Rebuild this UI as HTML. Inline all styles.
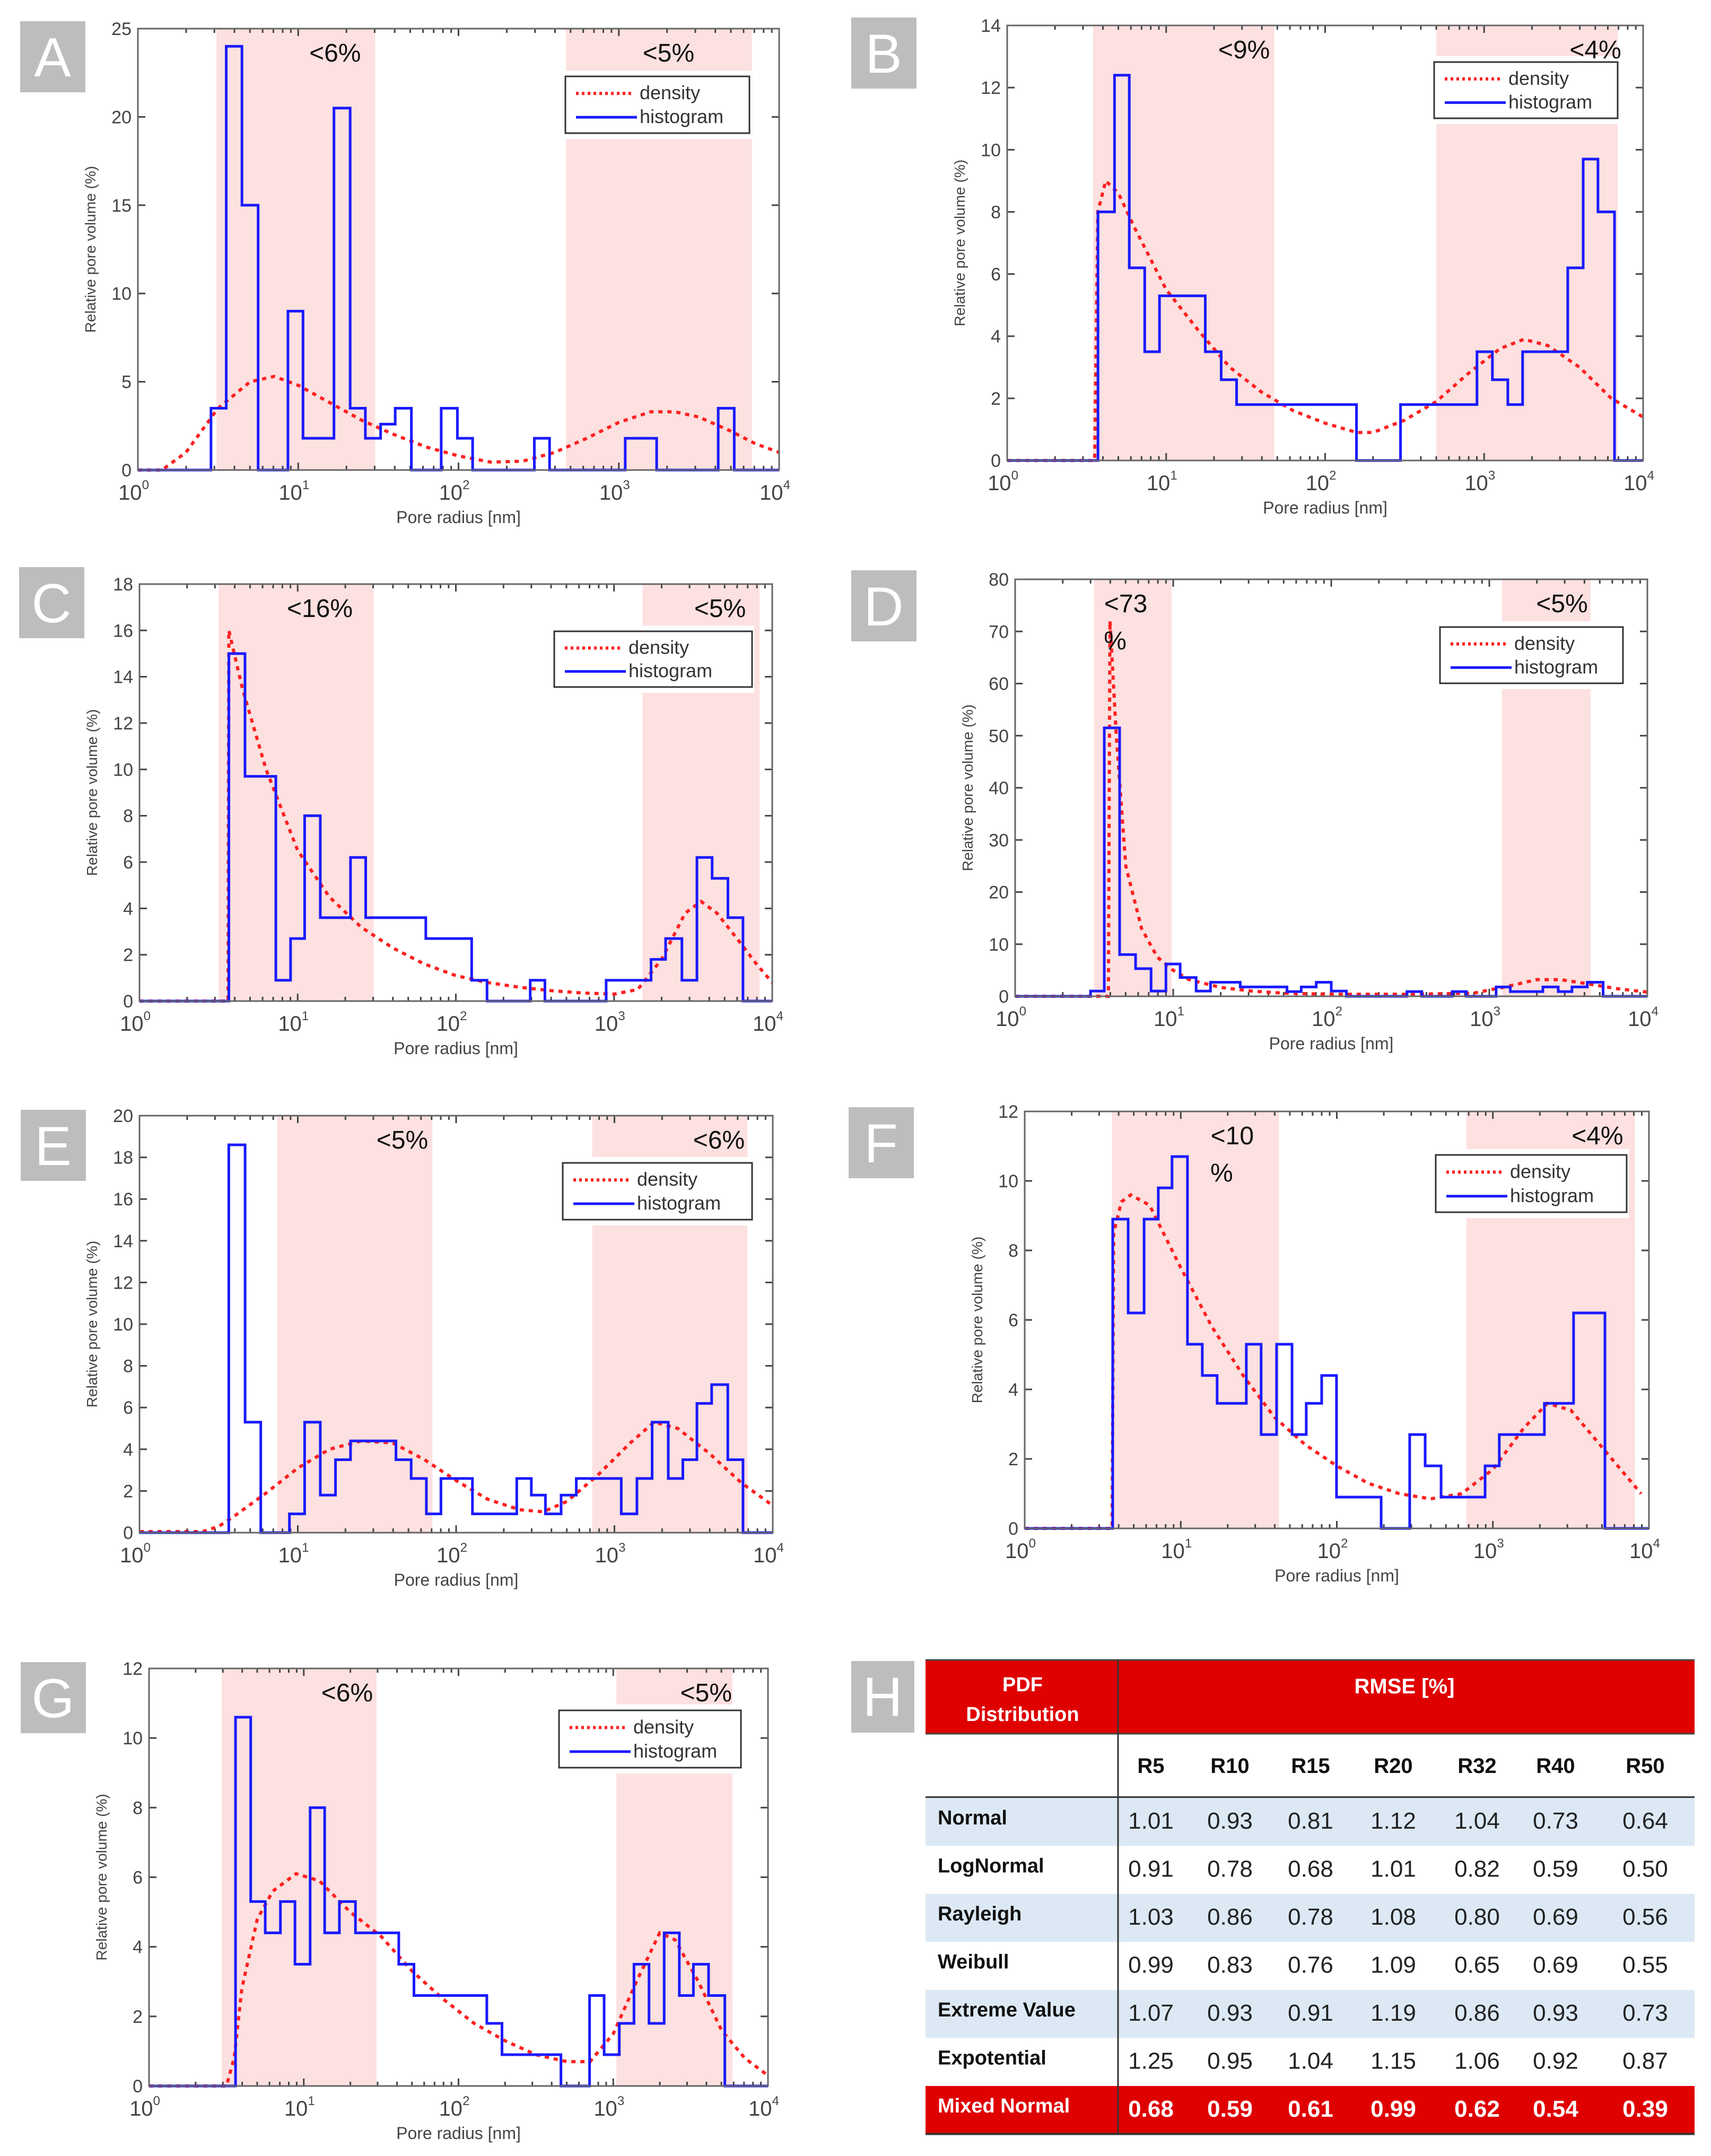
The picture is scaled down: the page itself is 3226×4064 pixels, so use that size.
<!DOCTYPE html>
<html><head><meta charset="utf-8"><style>
html,body{margin:0;padding:0;background:#fff;}
svg{display:block;font-family:"Liberation Sans",sans-serif;}
</style></head><body>
<svg id="fig" xmlns="http://www.w3.org/2000/svg" width="3226" height="4064" viewBox="0 0 3226 4064">
<rect x="0" y="0" width="3226" height="4064" fill="#fff"/>
</svg>
<script>
// ---------- DATA (x in log10(nm), y in %) ----------
const panelIds = ["A","B","C","D","E","F","G"];
const yMaxes = [25,14,18,80,20,12,12];
const yStepsArr = [5,2,2,10,2,2,2];
const shadeA = [[0.49,1.48],[2.67,3.83]];
const shadeB = [[0.54,1.68],[2.70,3.84]];
const shadeC = [[0.50,1.48],[3.18,3.92]];
const shadeD = [[0.50,0.99],[3.08,3.64]];
const shadeE = [[0.87,1.85],[2.86,3.84]];
const shadeF = [[0.56,1.63],[2.83,3.91]];
const shadeG = [[0.47,1.47],[3.02,3.77]];
const labelsA = [["<6%",1.23,""],["<5%",3.31,""]];
const labelsB = [["<9%",1.49,""],["<4%",3.70,""]];
const labelsC = [["<16%",1.14,""],["<5%",3.67,""]];
const labelsD = [["<73",0.70,"%"],["<5%",3.46,""]];
const labelsE = [["<5%",1.66,""],["<6%",3.66,""]];
const labelsF = [["<10",1.33,"%"],["<4%",3.67,""]];
const labelsG = [["<6%",1.28,""],["<5%",3.60,""]];

const histEdgesA = [0,0.456,0.551,0.649,0.75,0.936,1.03,1.223,1.324,1.419,1.514,1.605,1.706,1.892,1.993,2.088,2.473,2.568,3.04,3.236,3.62,3.72,4];
const histValsA = [0,3.5,24,15,0,9,1.8,20.5,3.5,1.8,2.6,3.5,0,3.5,1.8,0,1.8,0,1.8,0,3.5,0];
const histEdgesB = [0,0.571,0.675,0.768,0.865,0.958,1.246,1.346,1.443,2.197,2.474,2.955,3.052,3.149,3.242,3.526,3.623,3.716,3.82,4];
const histValsB = [0,8,12.4,6.2,3.5,5.3,3.5,2.6,1.8,0,1.8,3.5,2.6,1.8,3.5,6.2,9.7,8,0];
const histEdgesC = [0,0.565,0.667,0.862,0.955,1.044,1.143,1.334,1.43,1.81,2.10,2.197,2.47,2.563,2.95,3.234,3.326,3.429,3.524,3.62,3.72,3.815,4];
const histValsC = [0,15,9.7,0.9,2.7,8,3.6,6.2,3.6,2.7,0.9,0,0.9,0,0.9,1.8,2.7,0.9,6.2,5.3,3.6,0];
const histEdgesD = [0,0.477,0.564,0.661,0.762,0.86,0.954,1.044,1.145,1.236,1.424,1.72,1.81,1.905,2.0,2.096,2.479,2.573,2.765,2.855,3.043,3.133,3.339,3.436,3.523,3.62,3.72,4];
const histValsD = [0,1,51.5,8,5.3,1,6.2,3.6,1,2.7,1.8,0.9,1.8,2.7,1,0,0.9,0,0.9,0,1.8,0.9,1.8,0.9,1.8,2.7,0];
const histEdgesE = [0,0.564,0.667,0.766,0.947,1.043,1.142,1.238,1.333,1.62,1.716,1.812,1.904,2.103,2.383,2.475,2.564,2.663,2.759,3.043,3.142,3.238,3.34,3.432,3.521,3.614,3.716,3.812,4];
const histValsE = [0,18.6,5.3,0,0.9,5.3,1.8,3.5,4.4,3.5,2.6,0.9,2.6,0.9,2.6,1.8,0.9,1.8,2.6,0.9,2.6,5.3,2.6,3.5,6.2,7.1,3.5,0];
const histEdgesF = [0,0.564,0.663,0.765,0.856,0.944,1.043,1.138,1.233,1.42,1.515,1.614,1.713,1.804,1.903,1.998,2.284,2.467,2.566,2.668,2.95,3.041,3.33,3.517,3.718,4];
const histValsF = [0,8.9,6.2,8.9,9.8,10.7,5.3,4.4,3.6,5.3,2.7,5.3,2.7,3.6,4.4,0.9,0,2.7,1.8,0.9,1.8,2.7,3.6,6.2,0];
const histEdgesG = [0,0.559,0.657,0.751,0.849,0.943,1.041,1.135,1.23,1.334,1.614,1.712,2.183,2.281,2.662,2.847,2.941,3.039,3.134,3.231,3.329,3.427,3.518,3.616,3.721,4];
const histValsG = [0,10.6,5.3,4.4,5.3,3.5,8,4.4,5.3,4.4,3.5,2.6,1.8,0.9,0,2.6,0.9,1.8,3.5,1.8,4.4,2.6,3.5,2.6,0];

const densXA = [0,0.15,0.3,0.5,0.7,0.85,1.0,1.2,1.4,1.6,1.8,2.0,2.2,2.4,2.6,2.8,3.0,3.2,3.35,3.5,3.7,3.85,4];
const densYA = [0,0,1,3.5,5,5.3,4.8,3.8,2.8,2.0,1.3,0.8,0.45,0.5,1.0,1.8,2.7,3.3,3.3,3.0,2.2,1.5,1.0];
const densXB = [0,0.55,0.57,0.62,0.7,0.8,1.0,1.2,1.4,1.6,1.8,2.0,2.2,2.3,2.5,2.7,2.9,3.1,3.25,3.4,3.6,3.8,4];
const densYB = [0,0,8,9,8.6,7.5,5.5,4.2,3.0,2.2,1.6,1.2,0.9,0.9,1.3,1.9,2.8,3.6,3.9,3.7,3.0,2.0,1.4];
const densXC = [0,0.56,0.565,0.65,0.8,1.0,1.2,1.4,1.6,1.8,2.0,2.2,2.4,2.6,2.8,3.0,3.15,3.3,3.45,3.55,3.65,3.8,3.9,4.0];
const densYC = [0,0,16,13.5,10,6.5,4.5,3.2,2.3,1.6,1.1,0.8,0.6,0.45,0.35,0.3,0.5,1.8,3.8,4.3,3.8,2.5,1.6,0.8];
const densXD = [0,0.59,0.6,0.64,0.7,0.8,0.9,1.0,1.1,1.3,1.5,1.7,2.0,2.5,2.9,3.1,3.3,3.45,3.6,3.8,4];
const densYD = [0,0,72,50,25,13,7.5,5,3.2,1.7,1.0,0.6,0.4,0.4,0.6,1.8,3.2,3.2,2.5,1.5,0.8];
const densXE = [0,0.4,0.5,0.6,0.8,1.0,1.2,1.4,1.6,1.8,2.0,2.2,2.4,2.55,2.7,2.9,3.1,3.25,3.4,3.6,3.8,4];
const densYE = [0.05,0.05,0.3,0.8,1.9,3.1,4.0,4.4,4.3,3.5,2.5,1.6,1.1,1.0,1.5,2.8,4.3,5.3,5.0,3.8,2.4,1.3];
const densXF = [0,0.56,0.57,0.62,0.68,0.8,1.0,1.2,1.4,1.6,1.8,2.0,2.2,2.4,2.6,2.8,3.0,3.2,3.35,3.5,3.65,3.8,3.95];
const densYF = [0,0,8.5,9.4,9.6,9.3,7.5,5.8,4.4,3.2,2.4,1.8,1.3,1.0,0.85,1.0,1.7,2.9,3.6,3.4,2.6,1.8,1.0];
const densXG = [0,0.5,0.55,0.6,0.7,0.8,0.95,1.1,1.3,1.5,1.7,1.9,2.1,2.3,2.5,2.7,2.85,3.0,3.15,3.3,3.4,3.55,3.7,3.85,4];
const densYG = [0,0,0.8,2.8,4.8,5.6,6.1,5.9,5.0,4.3,3.3,2.5,1.8,1.3,0.9,0.7,0.7,1.5,3.0,4.4,4.2,3.0,1.6,0.8,0.3];

const tableCols = ["R5","R10","R15","R20","R32","R40","R50"];
const tableRowNames = ["Normal","LogNormal","Rayleigh","Weibull","Extreme Value","Expotential","Mixed Normal"];
const tableVals = [
 ["1.01","0.93","0.81","1.12","1.04","0.73","0.64"],
 ["0.91","0.78","0.68","1.01","0.82","0.59","0.50"],
 ["1.03","0.86","0.78","1.08","0.80","0.69","0.56"],
 ["0.99","0.83","0.76","1.09","0.65","0.69","0.55"],
 ["1.07","0.93","0.91","1.19","0.86","0.93","0.73"],
 ["1.25","0.95","1.04","1.15","1.06","0.92","0.87"],
 ["0.68","0.59","0.61","0.99","0.62","0.54","0.39"]
];

// ---------- LAYOUT ----------
const rects = [[260,54,1469,886],[1899,48,3098,868],[263,1101,1456,1887],[1914,1092,3106,1878],[263,2103,1457,2889],[1932,2095,3109,2881],[281,3145,1448,3932]];
const legends = [[1066,144,1413,251],[2704,117,3050,223],[1045,1190,1418,1295],[2715,1182,3060,1288],[1061,2192,1418,2299],[2707,2177,3067,2285],[1054,3224,1397,3332]];
const letterBoxes = [[38,40],[1605,33],[36,1069],[1605,1075],[39,2092],[1600,2087],[39,3133]];
const shades=[shadeA,shadeB,shadeC,shadeD,shadeE,shadeF,shadeG];
const labels=[labelsA,labelsB,labelsC,labelsD,labelsE,labelsF,labelsG];
const hE=[histEdgesA,histEdgesB,histEdgesC,histEdgesD,histEdgesE,histEdgesF,histEdgesG];
const hV=[histValsA,histValsB,histValsC,histValsD,histValsE,histValsF,histValsG];
const dX=[densXA,densXB,densXC,densXD,densXE,densXF,densXG];
const dY=[densYA,densYB,densYC,densYD,densYE,densYF,densYG];

const NS="http://www.w3.org/2000/svg";
const svg=document.getElementById("fig");
function mk(tag,attrs,parent,text){const e=document.createElementNS(NS,tag);for(const k in attrs)e.setAttribute(k,attrs[k]);if(text!==undefined)e.textContent=text;(parent||svg).appendChild(e);return e;}

panelIds.forEach((id,i)=>{
  const [x0,y0,x1,y1]=rects[i];
  const ymax=yMaxes[i];
  const X=l=>x0+(l/4)*(x1-x0);
  const Y=v=>y1-(v/ymax)*(y1-y0);
  const g=mk("g",{});
  
  
  const [lx,ly]=letterBoxes[i];
  const lb=mk("rect",{x:lx,y:ly,width:123,height:134,fill:"#bdbdbd"},g);
  
  
  const lt=mk("text",{x:lx+61,y:ly+104,"text-anchor":"middle","font-size":104,fill:"#fff"},g,id);
  
  
  shades[i].forEach(s=>{
    const r=mk("rect",{x:X(s[0]),y:y0,width:X(s[1])-X(s[0]),height:y1-y0,fill:"#fde0e0"},g);
    
    
  });
  const [gx0,gy0,gx1,gy1]=legends[i];
  mk("rect",{x:gx0-4,y:gy0-11,width:gx1-gx0+8,height:gy1-gy0+22,fill:"#fff"},g);
  const tg=mk("g",{stroke:"#444","stroke-width":3},g);
  for(let d=0;d<4;d++){for(let m=1;m<=9;m++){const l=d+Math.log10(m);const len=m===1?14:8;const xx=X(l);
    mk("line",{x1:xx,y1:y1,x2:xx,y2:y1-len},tg);mk("line",{x1:xx,y1:y0,x2:xx,y2:y0+len},tg);}}
  for(let v=0;v<=ymax;v+=yStepsArr[i]){const yy=Y(v);
    mk("line",{x1:x0,y1:yy,x2:x0+14,y2:yy},tg);mk("line",{x1:x1,y1:yy,x2:x1-14,y2:yy},tg);
    const t=mk("text",{x:x0-12,y:yy+12,"text-anchor":"end","font-size":34,fill:"#444"},g,String(v));
    
    
  }
  for(let d=0;d<=4;d++){const xx=X(d);
    const t=mk("text",{x:xx-8,y:y1+56,"text-anchor":"middle","font-size":40,fill:"#444"},g);
    
    
    mk("tspan",{},t,"10");mk("tspan",{dy:-20,"font-size":24},t,String(d));
  }
  const dp=dX[i].map((x,k)=>X(x).toFixed(1)+","+Y(dY[i][k]).toFixed(1)).join(" ");
  const dl=mk("polyline",{points:dp,fill:"none",stroke:"#ff2020","stroke-width":6,"stroke-dasharray":"8 9"},g);
  
  
  let pts=[];const E=hE[i],V=hV[i];
  for(let k=0;k<V.length;k++){pts.push(X(E[k])+","+Y(V[k]));pts.push(X(E[k+1])+","+Y(V[k]));}
  const hl=mk("polyline",{points:pts.join(" "),fill:"none",stroke:"#1a1aff","stroke-width":5,"stroke-linejoin":"miter"},g);
  
  
  const fr=mk("rect",{x:x0,y:y0,width:x1-x0,height:y1-y0,fill:"none",stroke:"#666","stroke-width":3},g);
  
  
  labels[i].forEach(a=>{
    const t=mk("text",{x:X(a[1]),y:y0+62,"text-anchor":"middle","font-size":48,fill:"#111"},g,a[0]);
    
    
    if(a[2]){const t2=mk("text",{x:X(a[1])-20,y:y0+132,"text-anchor":"middle","font-size":48,fill:"#111"},g,a[2]);
      
      }
  });
  const lg=mk("g",{},g);
  
  
  mk("rect",{x:gx0,y:gy0,width:gx1-gx0,height:gy1-gy0,fill:"#fff",stroke:"#333","stroke-width":3},lg);
  const h=gy1-gy0;
  mk("line",{x1:gx0+20,y1:gy0+h*0.3,x2:gx0+130,y2:gy0+h*0.3,stroke:"#ff2020","stroke-width":6,"stroke-dasharray":"5 6"},lg);
  mk("line",{x1:gx0+20,y1:gy0+h*0.72,x2:gx0+135,y2:gy0+h*0.72,stroke:"#1a1aff","stroke-width":5},lg);
  const e1=mk("text",{x:gx0+140,y:gy0+h*0.3+11,"font-size":36,fill:"#333"},lg,"density");
  
  
  const e2=mk("text",{x:gx0+140,y:gy0+h*0.72+11,"font-size":36,fill:"#333"},lg,"histogram");
  
  
  const xt=mk("text",{x:(x0+x1)/2,y:y1+100,"text-anchor":"middle","font-size":32,fill:"#444"},g,"Pore radius [nm]");
  
  
  const yc=(y0+y1)/2, yx=x0-80;
  const yt=mk("text",{x:yx,y:yc,"text-anchor":"middle","font-size":28,fill:"#444",transform:`rotate(-90 ${yx} ${yc})`},g,"Relative pore volume (%)");
  
  
});

// ---------- TABLE H ----------
(function(){
  const tg=mk("g",{});
  
  
  const hb=mk("rect",{x:1605,y:3131,width:119,height:135,fill:"#bdbdbd"},tg);
  
  
  const ht=mk("text",{x:1664,y:3234,"text-anchor":"middle","font-size":104,fill:"#fff"},tg,"H");
  
  
  const tx0=1745,tx1=3195,div=2108;
  mk("rect",{x:tx0,y:3129,width:tx1-tx0,height:139,fill:"#df0000"},tg);
  mk("line",{x1:tx0,y1:3129,x2:tx1,y2:3129,stroke:"#444","stroke-width":3},tg);
  mk("line",{x1:tx0,y1:3268,x2:tx1,y2:3268,stroke:"#444","stroke-width":3},tg);
  const h1=mk("text",{x:1928,y:3188,"text-anchor":"middle","font-size":38,"font-weight":"bold",fill:"#fff"},tg,"PDF");
  
  
  const h2=mk("text",{x:1928,y:3244,"text-anchor":"middle","font-size":38,"font-weight":"bold",fill:"#fff"},tg,"Distribution");
  
  
  const h3=mk("text",{x:2648,y:3192,"text-anchor":"middle","font-size":40,"font-weight":"bold",fill:"#fff"},tg,"RMSE [%]");
  
  
  const colX=[2170,2319,2471,2627,2785,2933,3102];
  tableCols.forEach((c,k)=>{
    const t=mk("text",{x:colX[k],y:3342,"text-anchor":"middle","font-size":40,"font-weight":"bold",fill:"#111"},tg,c);
    
    
  });
  mk("line",{x1:tx0,y1:3388,x2:tx1,y2:3388,stroke:"#333","stroke-width":4},tg);
  const rh=90.5;
  tableRowNames.forEach((n,r)=>{
    const ry=3389+r*rh;
    const last=r===tableRowNames.length-1;
    const fill=last?"#df0000":(r%2===0?"#dce9f5":"#fff");
    mk("rect",{x:tx0,y:ry,width:tx1-tx0,height:rh,fill:fill},tg);
    const nt=mk("text",{x:1768,y:ry+50,"font-size":38,"font-weight":"bold",fill:last?"#fff":"#111"},tg,n);
    
    
    tableVals[r].forEach((v,k)=>{
      const vt=mk("text",{x:colX[k],y:ry+58,"text-anchor":"middle","font-size":44,"font-weight":last?"bold":"normal",fill:last?"#fff":"#222"},tg,v);
      
      
    });
  });
  const yb=3389+tableRowNames.length*rh;
  mk("line",{x1:tx0,y1:yb,x2:tx1,y2:yb,stroke:"#333","stroke-width":4},tg);
  mk("line",{x1:div,y1:3129,x2:div,y2:yb,stroke:"#333","stroke-width":3},tg);
})();
</script>
</body></html>
